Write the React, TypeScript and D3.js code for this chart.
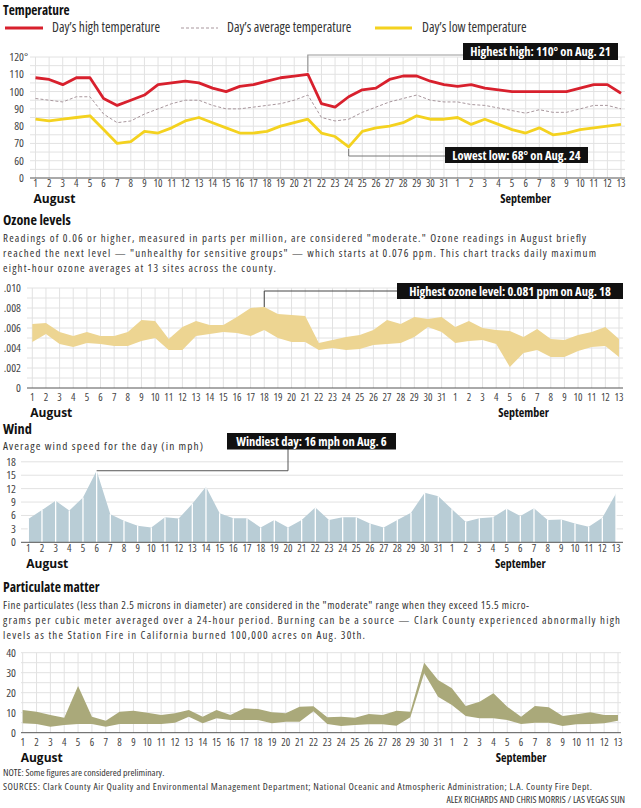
import React from "react";
import * as d3 from "d3";

const dayLabels: string[] = [...d3.range(1, 32), ...d3.range(1, 14)].map(String);

const tempHigh = [108,107,104,108,108,96,92,95,98,104,105,106,105,102,100,103,104,106,108,109,110,93,91,97,101,102,107,109,109,106,104,103,104,102,101,100,100,100,100,100,102,104,104,99];
const tempAvg = [96,95,94,97,97,87,82,83,87,90,93,95,95,92,90,90,91,92,93,95,98,85,83,84,88,91,94,96,98,95,94,94,92.5,92,90.5,89,87.5,89.5,88,88,90,92,92,90];
const tempLow = [84,83,84,85,86,78,70,71,77,76,79,83,85,82,79,76,76,77,80,82,84,76,74,68,77,79,80,82,86,84,84,85,81,84,81,78,76,79,75,76,78,79,80,81];

const ozoneHigh = [0.0064,0.0065,0.0056,0.0052,0.0056,0.0052,0.0052,0.0056,0.0068,0.0067,0.0049,0.0061,0.0067,0.0063,0.0063,0.0071,0.0080,0.0081,0.0074,0.0073,0.0072,0.0045,0.0048,0.0051,0.0053,0.0058,0.0068,0.0064,0.0071,0.0069,0.0071,0.0061,0.0067,0.0060,0.0058,0.0057,0.0051,0.0059,0.0049,0.0048,0.0053,0.0056,0.0061,0.0049];
const ozoneLow = [0.0046,0.0054,0.0044,0.0041,0.0045,0.0044,0.0042,0.0042,0.0047,0.0050,0.0038,0.0038,0.0052,0.0054,0.0056,0.0055,0.0052,0.0058,0.0050,0.0046,0.0046,0.0038,0.0040,0.0038,0.0039,0.0043,0.0044,0.0045,0.0051,0.0061,0.0056,0.0045,0.0047,0.0048,0.0044,0.0021,0.0035,0.0038,0.0031,0.0031,0.0037,0.0041,0.0042,0.0031];

const windSpeed = [5.2,7.2,9.3,7.1,10.0,16,6.3,4.8,3.7,3.3,5.6,5.3,8.6,12.4,6.5,5.4,5.4,3.3,5.0,3.3,5.0,7.8,5.0,5.6,5.6,4.2,3.3,5.0,6.6,11.1,10.3,7.4,4.6,5.4,5.6,7.5,5.9,7.6,5.0,5.1,4.2,3.5,5.5,10.9];

const pmHigh = [11.3,10.5,8.8,7.5,23.3,8.0,6.0,10.5,11.0,10.0,8.8,9.7,11.3,8.0,11.3,8.8,12.2,11.8,10.2,9.7,13.0,13.2,7.7,8.0,7.5,9.3,8.8,11.0,10.5,35,26.3,22.2,13.3,15.5,19.7,13.0,8.0,13.3,12.7,8.3,9.2,10.2,8.8,8.8];
const pmLow = [4.7,4.3,3.0,3.8,4.3,4.3,3.0,4.3,4.3,4.3,4.3,5.0,8.0,4.7,7.2,6.3,6.3,6.3,4.7,5.5,5.5,10.7,4.3,3.3,3.8,4.2,4.2,3.5,7.7,29.7,18,13.8,8.3,7.2,7.2,6.3,4.3,5.0,5.0,3.3,4.2,4.3,4.7,6.0];

const tempTicks = [50, 60, 70, 80, 90, 100, 110, 120];
const ozoneTicks = [0, 0.002, 0.004, 0.006, 0.008, 0.01];
const windTicks = [0, 3, 6, 9, 12, 15, 18];
const pmTicks = [0, 10, 20, 30, 40];

const FONT = "'Open Sans', Roboto, sans-serif";
const GRID = "#e2e2e2";
const TXT = "#333";
const STRETCHES = ["normal", "semi-condensed", "condensed"];

let ctx: any = null;
function measure(text: string, weight: string, size: number, stretch: string) {
  if (typeof document === "undefined") return 0;
  if (!ctx) ctx = document.createElement("canvas").getContext("2d");
  if (!ctx) return 0;
  ctx.font = `${weight === "bold" ? "bold" : "normal"} ${size}px ${FONT}`;
  try { ctx.fontStretch = stretch; } catch (e) { /* ignore */ }
  return ctx.measureText(text).width;
}

// picks the widest face whose natural width fits w; otherwise shrinks the condensed face
function fit(text: string, weight: string, w: number, size: number) {
  for (const st of STRETCHES) {
    const m = measure(text, weight, size, st);
    if (!m) return { s: size, st: "condensed", gap: false };
    if (m <= w) return { s: size, st, gap: m < w - 0.5 };
  }
  const m75 = measure(text, weight, size, "condensed");
  return { s: (size * w) / m75 * 0.995, st: "condensed", gap: false };
}

const T = (p: any) => {
  const { x, y, size = 12, weight = "normal", w, pad = false, anchor = "start", fill = TXT, children } = p;
  const f = w ? fit(String(children), weight, w, size) : { s: size, st: "condensed", gap: false };
  const extra = pad && f.gap ? { textLength: w, lengthAdjust: "spacing" } : {};
  return (
    <text x={x} y={y} fontSize={f.s} fontWeight={weight} textAnchor={anchor} fill={fill} fontFamily={FONT}
      style={{ fontStretch: f.st }} {...extra}>
      {children}
    </text>
  );
};

const idx = d3.range(44);

function XAxis({ x, y }: { x: d3.ScaleLinear<number, number>; y: number }) {
  return (
    <g>
      {idx.map((i) => (
        <T key={i} x={x(i)} y={y - 1} size={10.5} anchor="middle" fill="#444">{dayLabels[i]}</T>
      ))}
      <T x={x(0) - 2} y={y + 15} size={12} weight="bold" fill="#111" w={53}>August</T>
      <T x={x(36)} y={y + 15} size={12} weight="bold" anchor="middle" fill="#111" w={52}>September</T>
    </g>
  );
}

function Temperature() {
  const x = d3.scaleLinear().domain([0, 43]).range([35.5, 621]);
  const y = d3.scaleLinear().domain([50, 120]).range([178, 57]);
  const line = (arr: number[]) => d3.line<number>().x((_, i) => x(i)).y((d) => y(d))(arr) || "";
  const hg = d3.range(55, 121, 5);
  return (
    <g>
      <T x={3} y={15} size={15} weight="bold" fill="#111" w={67}>Temperature</T>
      <line x1={5} x2={43} y1={28} y2={28} stroke="#d8202d" strokeWidth={3} />
      <T x={52} y={32} size={13.5} w={113}>Day’s high temperature</T>
      <line x1={181} x2={218} y1={28} y2={28} stroke="#a8979d" strokeWidth={1} strokeDasharray="3,2" />
      <T x={227} y={32} size={13.5} w={131}>Day’s average temperature</T>
      <line x1={375} x2={412} y1={28} y2={28} stroke="#f4d21f" strokeWidth={3} />
      <T x={422} y={32} size={13.5} w={109}>Day’s low temperature</T>
      {hg.map((v) => (
        <line key={v} x1={30} x2={625} y1={y(v)} y2={y(v)} stroke={GRID} strokeWidth={1} />
      ))}
      {idx.map((i) => (
        <line key={i} x1={x(i)} x2={x(i)} y1={y(120)} y2={y(50)} stroke={GRID} strokeWidth={1} />
      ))}
      <line x1={30} x2={625} y1={y(50)} y2={y(50)} stroke="#555" strokeWidth={1} />
      {tempTicks.map((v) => (
        <T key={v} x={24} y={y(v) + 4} size={11.5} anchor="end" fill="#444">{v === 50 ? "0" : String(v)}</T>
      ))}
      <T x={24} y={y(120) + 4} size={11.5} fill="#444">°</T>
      <path d={line(tempAvg)} fill="none" stroke="#a8979d" strokeWidth={1} strokeDasharray="3,2" />
      <path d={line(tempLow)} fill="none" stroke="#f4d21f" strokeWidth={2.8} strokeLinejoin="round" />
      <path d={line(tempHigh)} fill="none" stroke="#d8202d" strokeWidth={2.8} strokeLinejoin="round" />
      <XAxis x={x} y={188} />
      <polyline points={`${x(20)},${y(110) - 2} ${x(20)},${55} ${463},${55}`} fill="none" stroke="#999" strokeWidth={1.2} />
      <rect x={463} y={43} width={155} height={17} fill="#111" />
      <T x={540.5} y={56} size={12.5} weight="bold" anchor="middle" fill="#fff" w={146}>Highest high: 110° on Aug. 21</T>
      <polyline points={`${x(23)},${y(68) + 2} ${x(23)},${156} ${445},${156}`} fill="none" stroke="#777" strokeWidth={1} />
      <rect x={445} y={147} width={143} height={16} fill="#111" />
      <T x={516.5} y={159.5} size={12.5} weight="bold" anchor="middle" fill="#fff" w={134}>Lowest low: 68° on Aug. 24</T>
    </g>
  );
}

function Ozone() {
  const x = d3.scaleLinear().domain([0, 43]).range([32.3, 619]);
  const y = d3.scaleLinear().domain([0, 0.01]).range([388, 288]);
  const area = d3.area<number>().x((_, i) => x(i)).y0((_, i) => y(ozoneLow[i])).y1((d) => y(d));
  const hg = d3.range(0.001, 0.0105, 0.001);
  return (
    <g>
      <T x={3} y={225} size={14.5} weight="bold" fill="#111" w={68}>Ozone levels</T>
      <T x={3} y={242} size={10.9} pad w={583}>Readings of 0.06 or higher, measured in parts per million, are considered "moderate." Ozone readings in August briefly</T>
      <T x={3} y={257} size={10.9} pad w={593}>reached the next level — "unhealthy for sensitive groups" — which starts at 0.076 ppm. This chart tracks daily maximum</T>
      <T x={3} y={272} size={10.9} pad w={273}>eight-hour ozone averages at 13 sites across the county.</T>
      {hg.map((v) => (
        <line key={v} x1={27} x2={623} y1={y(v)} y2={y(v)} stroke={GRID} strokeWidth={1} />
      ))}
      {idx.map((i) => (
        <line key={i} x1={x(i)} x2={x(i)} y1={y(0.01)} y2={y(0)} stroke={GRID} strokeWidth={1} />
      ))}
      <path d={area(ozoneHigh) || ""} fill="#edd592" />
      <line x1={27} x2={623} y1={y(0)} y2={y(0)} stroke="#555" strokeWidth={1} />
      {ozoneTicks.map((v) => (
        <T key={v} x={21} y={y(v) + 4} size={11.5} anchor="end" fill="#444">{v === 0 ? "0" : d3.format(".3f")(v).replace(/^0/, "")}</T>
      ))}
      <XAxis x={x} y={401.5} />
      <polyline points={`${x(17)},${y(0.0081)} ${x(17)},${291} ${397},${291}`} fill="none" stroke="#444" strokeWidth={1} />
      <rect x={397} y={283} width={226} height={16} fill="#111" />
      <T x={510} y={295.5} size={12.5} weight="bold" anchor="middle" fill="#fff" w={215}>Highest ozone level:  0.081 ppm on Aug. 18</T>
    </g>
  );
}

function Wind() {
  const x = d3.scaleLinear().domain([0, 43]).range([28.3, 616]);
  const y = d3.scaleLinear().domain([0, 18]).range([542.3, 461.8]);
  const area = d3.area<number>().x((_, i) => x(i)).y0(y(0)).y1((d) => y(d));
  return (
    <g>
      <T x={3} y={433.5} size={14.5} weight="bold" fill="#111" w={29}>Wind</T>
      <T x={3} y={450} size={11.3} pad w={200}>Average wind speed for the day (in mph)</T>
      {windTicks.filter((v) => v > 0).map((v) => (
        <line key={v} x1={21} x2={623} y1={y(v)} y2={y(v)} stroke={GRID} strokeWidth={1} />
      ))}
      <path d={area(windSpeed) || ""} fill="#b9cdd6" />
      {windSpeed.map((v, i) => (
        <line key={i} x1={x(i)} x2={x(i)} y1={y(v)} y2={y(0)} stroke="#fff" strokeWidth={1.3} />
      ))}
      <line x1={21} x2={623} y1={y(0)} y2={y(0)} stroke="#555" strokeWidth={1} />
      {windTicks.map((v) => (
        <T key={v} x={16} y={y(v) + 4} size={11.5} anchor="end" fill="#444">{String(v)}</T>
      ))}
      <XAxis x={x} y={553} />
      <polyline points={`${x(5)},${y(16)} ${288},${y(16)} ${288},${449}`} fill="none" stroke="#555" strokeWidth={1} />
      <rect x={227} y={433} width={169} height={16.5} fill="#111" />
      <T x={311.5} y={445.5} size={12.5} weight="bold" anchor="middle" fill="#fff" w={160}>Windiest day: 16 mph on Aug. 6</T>
    </g>
  );
}

function Particulate() {
  const x = d3.scaleLinear().domain([0, 43]).range([22.7, 618]);
  const y = d3.scaleLinear().domain([0, 40]).range([732.7, 652.7]);
  const area = d3.area<number>().x((_, i) => x(i)).y0((_, i) => y(pmLow[i])).y1((d) => y(d));
  const hg = d3.range(5, 41, 5);
  return (
    <g>
      <T x={3} y={592} size={14.5} weight="bold" fill="#111" w={97}>Particulate matter</T>
      <T x={3} y={609} size={10.9} pad w={526}>Fine particulates (less than 2.5 microns in diameter) are considered in the "moderate" range when they exceed 15.5 micro-</T>
      <T x={3} y={624} size={10.9} pad w={617}>grams per cubic meter averaged over a 24-hour period. Burning can be a source — Clark County experienced abnormally high</T>
      <T x={3} y={639} size={10.9} pad w={362}>levels as the Station Fire in California burned 100,000 acres on Aug. 30th.</T>
      {hg.map((v) => (
        <line key={v} x1={21} x2={621} y1={y(v)} y2={y(v)} stroke={GRID} strokeWidth={1} />
      ))}
      {idx.map((i) => (
        <line key={i} x1={x(i)} x2={x(i)} y1={y(40)} y2={y(0)} stroke={GRID} strokeWidth={1} />
      ))}
      <path d={area(pmHigh) || ""} fill="#aaa97a" />
      <line x1={21} x2={621} y1={y(0)} y2={y(0)} stroke="#555" strokeWidth={1} />
      {pmTicks.map((v) => (
        <T key={v} x={16} y={y(v) + 4} size={11.5} anchor="end" fill="#444">{String(v)}</T>
      ))}
      <XAxis x={x} y={747} />
    </g>
  );
}

export default function App() {
  return (
    <svg width={641} height={808} style={{ position: "absolute", left: 0, top: 0, background: "#fff" }}>
      <rect width={641} height={808} fill="#fff" />
      <Temperature />
      <Ozone />
      <Wind />
      <Particulate />
      <T x={3} y={776} size={9.8} w={181}>NOTE: Some figures are considered preliminary.</T>
      <T x={3} y={790} size={9.8} pad w={589}>SOURCES: Clark County Air Quality and Environmental Management Department; National Oceanic and Atmospheric Administration; L.A. County Fire Dept.</T>
      <T x={625} y={803} size={9.8} anchor="end" w={220}>ALEX RICHARDS AND CHRIS MORRIS / LAS VEGAS SUN</T>
    </svg>
  );
}
